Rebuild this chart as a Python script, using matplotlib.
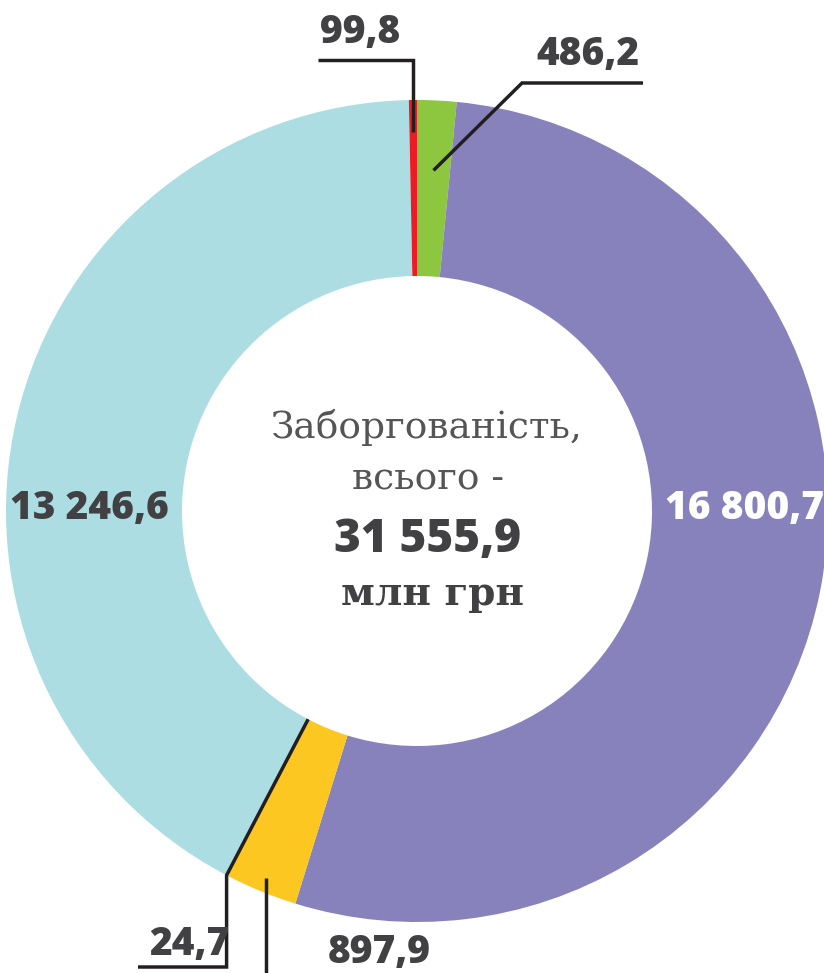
import numpy as np
import matplotlib

matplotlib.use("Agg")
import matplotlib.pyplot as plt

# slices clockwise from 12 o'clock
VALUES = [486.2, 16800.7, 897.9, 24.7, 13246.6, 99.8]
LABELS = ["486,2", "16 800,7", "897,9", "24,7", "13 246,6", "99,8"]
COLORS = ["#8dc63f", "#8782bc", "#fcc720", "#231f20", "#acdde3", "#ed1c24"]
TITLE = ["Заборгованість,", "всього -"]
TOTAL = "31 555,9"
UNIT = "млн грн"

W, H = 824, 973
CX, CY = 417, 511  # donut centre, px from top-left
R_OUT, R_IN = 411, 235
INK = "#414042"
LINE = "#231f20"
NUM = dict(family=["Open Sans", "DejaVu Sans"], fontweight="heavy", fontsize=28,
           ha="center", va="center")


def py(y):
    return H - y


def at(deg, r):
    # point on the donut, angle clockwise from the top, pixel coords (y down)
    a = np.radians(deg)
    return CX + r * np.sin(a), CY - r * np.cos(a)


def leader(ax, pts):
    xs, ys = zip(*pts)
    ax.plot(xs, [py(y) for y in ys], color=LINE, lw=2.5, solid_capstyle="butt",
            solid_joinstyle="miter")


def main():
    fig = plt.figure(figsize=(W / 100, H / 100), dpi=100, facecolor="white")
    ax = fig.add_axes([0, 0, 1, 1])
    ax.pie(VALUES, colors=COLORS, startangle=90, counterclock=False,
           center=(CX, py(CY)), radius=R_OUT,
           wedgeprops=dict(width=R_OUT - R_IN, linewidth=0))
    ax.set_xlim(0, W)
    ax.set_ylim(0, H)
    ax.set_aspect("equal")
    ax.axis("off")

    edges = np.cumsum([0] + VALUES) / sum(VALUES) * 360
    mid = (edges[:-1] + edges[1:]) / 2

    # ---- leader lines ------------------------------------------------------
    x, y = at(mid[5], R_OUT - 32)
    leader(ax, [(x, y), (x, 60), (318, 60)])

    x, y = at(mid[0], R_OUT - 70)
    leader(ax, [(x, y), (522, 83), (643, 83)])

    x0, y0 = at(mid[3], R_IN)
    x1, y1 = at(mid[3], R_OUT)
    leader(ax, [(x0, y0), (x1, y1), (x1, 967), (138, 967)])

    x, y = at(mid[2], R_OUT - 14)
    leader(ax, [(x, y), (x, H)])

    # ---- value labels ------------------------------------------------------
    spots = {
        "486,2": (588, 55, INK),
        "16 800,7": (745, 509, "white"),
        "897,9": (379, 952, INK),
        "24,7": (189, 945, INK),
        "13 246,6": (89, 509, INK),
        "99,8": (360, 32, INK),
    }
    for lab in LABELS:
        x, y, c = spots[lab]
        ax.text(x, py(y), lab, color=c, **NUM)

    # ---- centre text -------------------------------------------------------
    ax.text(427, py(428), TITLE[0], family="DejaVu Serif", fontsize=27,
            color="#555557", ha="center", va="center")
    ax.text(428, py(480), TITLE[1], family="DejaVu Serif", fontsize=27,
            color="#555557", ha="center", va="center")
    ax.text(428, py(540), TOTAL, color=INK, **{**NUM, "fontsize": 33})
    ax.text(432, py(594), UNIT, family="DejaVu Serif", fontweight="bold",
            fontsize=28, color=INK, ha="center", va="center")

    fig.savefig("out.png", facecolor="white")


if __name__ == "__main__":
    main()
